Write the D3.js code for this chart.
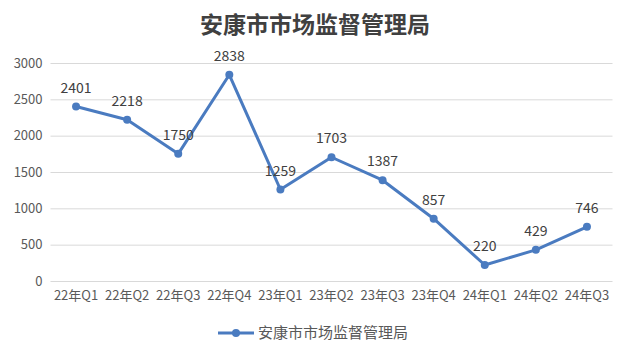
<!DOCTYPE html>
<html><head><meta charset="utf-8">
<script src="https://cdn.jsdelivr.net/npm/d3@7"></script>
<style>body{margin:0;background:#fff}svg{display:block}</style>
</head><body><svg id="c" width="630" height="357"></svg>
<script>
const title = "安康市市场监督管理局";
const categories = ["22年Q1","22年Q2","22年Q3","22年Q4","23年Q1","23年Q2","23年Q3","23年Q4","24年Q1","24年Q2","24年Q3"];
const values = [2401,2218,1750,2838,1259,1703,1387,857,220,429,746];
const yTicks = [0,500,1000,1500,2000,2500,3000];

const svg = d3.select("#c");
const color = "#4a7bc0";
const font = "'Noto Sans CJK SC', 'Noto Sans', sans-serif";
const x = d3.scaleBand().domain(categories).range([50.5, 612.5]);
const y = d3.scaleLinear().domain([0,3000]).range([281, 63]);

svg.append("text").attr("x", 315).attr("y", 33).attr("text-anchor","middle")
  .attr("font-family", font).attr("font-weight","bold").attr("font-size",23).attr("fill","#404040").text(title);

const yAxis = svg.append("g").attr("transform","translate(50.5,0)")
  .call(d3.axisLeft(y).tickValues(yTicks).tickSize(-562).tickPadding(8).tickFormat(d3.format("d")));
yAxis.select(".domain").remove();
yAxis.selectAll("line").attr("stroke","#d9d9d9");
yAxis.selectAll("text").attr("font-family",font).attr("font-size",13).attr("fill","#595959");

const xAxis = svg.append("g").attr("transform","translate(0,281)")
  .call(d3.axisBottom(x).tickSize(0).tickPadding(10));
xAxis.select(".domain").remove();
xAxis.selectAll("text").attr("font-family",font).attr("font-size",13).attr("fill","#595959");

const cx = d => x(d.c) + x.bandwidth()/2;
const data = categories.map((c,i)=>({c, v: values[i]}));
svg.append("path").datum(data).attr("fill","none").attr("stroke",color).attr("stroke-width",3)
  .attr("stroke-linejoin","round")
  .attr("d", d3.line().x(cx).y(d=>y(d.v)));
svg.selectAll(".pt").data(data).join("circle").attr("cx",cx).attr("cy",d=>y(d.v)).attr("r",4).attr("fill",color);
svg.selectAll(".lbl").data(data).join("text").attr("x",cx).attr("y",d=>y(d.v)-14)
  .attr("text-anchor","middle").attr("font-family",font).attr("font-size",14).attr("fill","#404040").text(d=>d.v);

const lg = svg.append("g");
lg.append("line").attr("x1",218).attr("x2",254).attr("y1",333).attr("y2",333).attr("stroke",color).attr("stroke-width",3);
lg.append("circle").attr("cx",236).attr("cy",333).attr("r",4).attr("fill",color);
lg.append("text").attr("x",258).attr("y",338).attr("font-family",font).attr("font-size",15).attr("fill","#595959").text(title);
</script></body></html>
